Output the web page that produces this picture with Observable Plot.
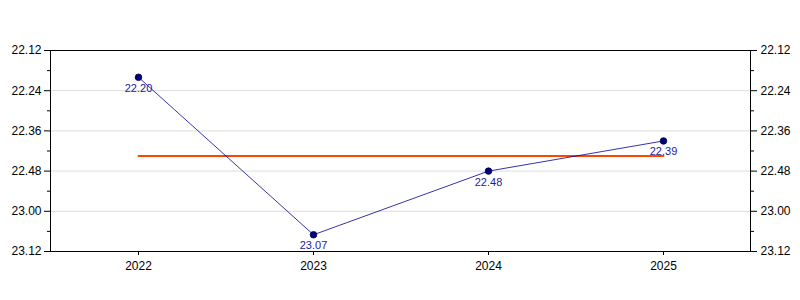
<!DOCTYPE html>
<html>
<head>
<meta charset="utf-8">
<script src="https://cdn.jsdelivr.net/npm/d3@7"></script>
<script src="https://cdn.jsdelivr.net/npm/@observablehq/plot@0.6"></script>
<style>
html, body { margin: 0; padding: 0; background: #fff; }
</style>
</head>
<body>
<div id="chart"></div>
<script>
// Data (times are minutes.seconds)
const years = ["2022", "2023", "2024", "2025"];
const times = ["22.20", "23.07", "22.48", "22.39"];
const majorTickLabels = ["22.12", "22.24", "22.36", "22.48", "23.00", "23.12"];
const minorTickLabels = ["22.18", "22.30", "22.42", "22.54", "23.06"];

const toSec = s => { const [m, ss] = s.split("."); return (+m) * 60 + (+ss); };
const fmt = v => `${Math.floor(v / 60)}.${String(Math.round(v % 60)).padStart(2, "0")}`;

const data = years.map((y, i) => ({ year: y, value: toSec(times[i]), label: times[i] }));
const meanValue = d3.mean(data, d => d.value);
const meanLine = [{ year: years[0], value: meanValue }, { year: years[years.length - 1], value: meanValue }];
const major = majorTickLabels.map(toSec);
const minor = minorTickLabels.map(toSec);

const chart = Plot.plot({
  width: 800,
  height: 300,
  marginTop: 50,
  marginBottom: 49,
  marginLeft: 50,
  marginRight: 50,
  style: { fontFamily: "'Liberation Sans', Arial, sans-serif", fontSize: "12px", background: "#fff", color: "#000" },
  x: { type: "point", domain: years, padding: 0.5 },
  y: { domain: [major[0], major[major.length - 1]], reverse: true },
  marks: [
    Plot.gridY(major.slice(1, -1), { stroke: "#dddddd", strokeOpacity: 1 }),
    Plot.frame({ stroke: "#000" }),
    Plot.axisY(major, { anchor: "left", tickSize: 6, tickPadding: 3, tickFormat: fmt, label: null, fontSize: 12, fill: "#000" }),
    Plot.axisY(minor, { anchor: "left", tickSize: 3, tickFormat: () => "", label: null }),
    Plot.axisY(major, { anchor: "right", tickSize: 6, tickPadding: 4, tickFormat: fmt, label: null, fontSize: 12, fill: "#000" }),
    Plot.axisY(minor, { anchor: "right", tickSize: 3, tickFormat: () => "", label: null }),
    Plot.axisX({ tickSize: 4, tickPadding: 6, label: null, fontSize: 12, fill: "#000" }),
    Plot.line(meanLine, { x: "year", y: "value", stroke: "#ff4500", strokeWidth: 2 }),
    Plot.line(data, { x: "year", y: "value", stroke: "#000099", strokeWidth: 0.8 }),
    Plot.dot(data, { x: "year", y: "value", r: 3.3, fill: "#000080", stroke: "#000033", strokeWidth: 0.8 }),
    Plot.text(data, { x: "year", y: "value", text: "label", dy: 11, fill: "#1c1ca0", fontSize: 11 })
  ]
});
document.getElementById("chart").appendChild(chart);
</script>
</body>
</html>
